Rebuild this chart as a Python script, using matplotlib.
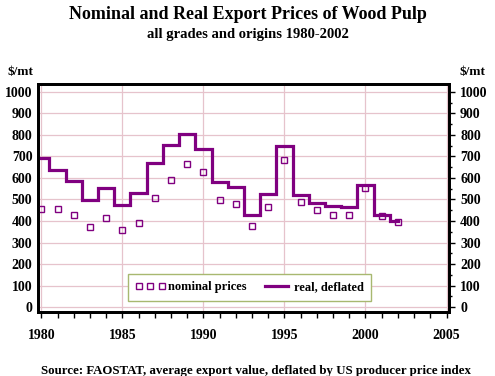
import matplotlib
matplotlib.use("Agg")
import matplotlib.pyplot as plt
from matplotlib.ticker import MultipleLocator

years = list(range(1980, 2003))
real_deflated = [694, 639, 584, 499, 552, 476, 532, 671, 752, 806, 736, 583, 557,
                 429, 527, 749, 522, 485, 471, 467, 569, 429, 402]
nominal = [457, 457, 429, 372, 416, 360, 392, 509, 592, 667, 629, 499, 478,
           375, 465, 685, 490, 453, 429, 429, 555, 425, 397]

PURPLE = "#800080"
GRID = "#e6c3cc"
plt.rcParams["font.family"] = ["Liberation Serif", "DejaVu Serif"]
plt.rcParams["font.weight"] = "bold"

fig = plt.figure(figsize=(4.95, 3.76), dpi=100)
ax = fig.add_axes([0.077, 0.170, 0.830, 0.607])

ax.step(years, real_deflated, where="mid", color=PURPLE, lw=2.3, label="real, deflated",
        solid_joinstyle="miter", zorder=3)
ax.plot(years, nominal, ls="none", marker="s", ms=4, mfc="none", mec=PURPLE, mew=1.0,
        label="nominal prices", zorder=4)

ax.set_xlim(1979.8, 2005.15)
ax.set_ylim(-23, 1037)
ax.xaxis.set_major_locator(MultipleLocator(5))
ax.xaxis.set_minor_locator(MultipleLocator(1))
ax.yaxis.set_major_locator(MultipleLocator(100))
ax.grid(True, which="major", color=GRID, lw=0.9, zorder=0)
ax.set_axisbelow(True)
for s in ax.spines.values():
    s.set_linewidth(2)
ax.tick_params(axis="x", which="both", direction="out", length=4, width=1, labelsize=10, pad=8)
ax.tick_params(axis="y", which="both", length=0, labelsize=10, pad=4)
for lbl in ax.get_xticklabels() + ax.get_yticklabels():
    lbl.set_fontweight("bold")

ax2 = ax.twinx()
ax2.set_ylim(ax.get_ylim())
ax2.yaxis.set_major_locator(MultipleLocator(100))
ax2.yaxis.set_minor_locator(MultipleLocator(50))
ax2.tick_params(axis="y", which="major", direction="out", length=4, width=1, labelsize=10, pad=4)
ax2.tick_params(axis="y", which="minor", direction="out", length=2, width=1)
for lbl in ax2.get_yticklabels():
    lbl.set_fontweight("bold")
for s in ax2.spines.values():
    s.set_linewidth(2)

h, l = ax.get_legend_handles_labels()
leg = ax.legend(h[::-1], l[::-1], ncol=2, numpoints=3, loc="lower left",
                bbox_to_anchor=(0.203, 0.022), fancybox=False, framealpha=1,
                edgecolor="#a8b870", prop={"weight": "bold", "size": 9},
                handlelength=2.4, columnspacing=1.2, borderpad=0.6, handletextpad=0.2)
leg.get_frame().set_linewidth(1)

fig.text(0.5, 0.962, "Nominal and Real Export Prices of Wood Pulp", ha="center", va="center",
         fontsize=13, fontweight="bold")
fig.text(0.5, 0.908, "all grades and origins 1980-2002", ha="center", va="center",
         fontsize=10.5, fontweight="bold")
fig.text(0.042, 0.808, "$/mt", ha="center", va="center", fontsize=9.5, fontweight="bold")
fig.text(0.955, 0.808, "$/mt", ha="center", va="center", fontsize=9.5, fontweight="bold")
fig.text(0.517, 0.012, "Source: FAOSTAT, average export value, deflated by US producer price index",
         ha="center", va="center", fontsize=9.3, fontweight="bold")

fig.savefig("out.png", dpi=100)
